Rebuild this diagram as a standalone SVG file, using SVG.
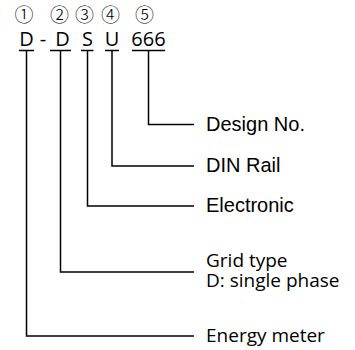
<svg xmlns="http://www.w3.org/2000/svg" width="355" height="350" viewBox="0 0 355 350">
<style>
.num{font-family:"Noto Sans CJK KR","Noto Sans CJK SC",sans-serif;font-size:19px;font-weight:300;fill:#000}
.code{font-family:"Open Sans","Noto Sans",sans-serif;font-size:20px;fill:#000}
.lbl{font-family:"Liberation Sans",Arial,sans-serif;font-size:20px;fill:#000}
.lbl2{font-family:"Open Sans","Noto Sans",sans-serif;font-size:19px;fill:#000}
.ln{stroke:#000;stroke-width:1.5;fill:none}
</style>
<rect width="355" height="350" fill="#fff"/>
<g id="header">
<text class="num" x="24" y="22.2" text-anchor="middle">①</text>
<text class="num" x="59.5" y="22.2" text-anchor="middle">②</text>
<text class="num" x="84.5" y="22.2" text-anchor="middle">③</text>
<text class="num" x="110.5" y="22.2" text-anchor="middle">④</text>
<text class="num" x="144.5" y="22.2" text-anchor="middle">⑤</text>
<text class="code" x="26.5" y="46" text-anchor="middle">D</text>
<text class="code" x="43" y="46" text-anchor="middle">-</text>
<text class="code" x="62.5" y="46" text-anchor="middle">D</text>
<text class="code" x="87.5" y="46" text-anchor="middle">S</text>
<text class="code" x="112" y="46" text-anchor="middle">U</text>
<text class="code" x="148.5" y="46" text-anchor="middle">666</text>
</g>
<g id="connectors">
<path class="ln" d="M19 50.5H34M26.5 50.5V336H194"/>
<path class="ln" d="M50 50.5H71M60.5 50.5V272H194"/>
<path class="ln" d="M81 50.5H93.5M87.5 50.5V206H194"/>
<path class="ln" d="M105 50.5H119M112 50.5V166H194"/>
<path class="ln" d="M132 50.5H165M148.5 50.5V124.5H194"/>
</g>
<g id="n5"><text class="lbl" x="206" y="130.5">Design No.</text></g>
<g id="n4"><text class="lbl" x="206" y="172">DIN Rail</text></g>
<g id="n3"><text class="lbl" x="206" y="212">Electronic</text></g>
<g id="n2"><text class="lbl2" x="206" y="266.5">Grid type<tspan x="206" dy="20.5">D: single phase</tspan></text></g>
<g id="n1"><text class="lbl2" x="206" y="342">Energy meter</text></g>
</svg>
